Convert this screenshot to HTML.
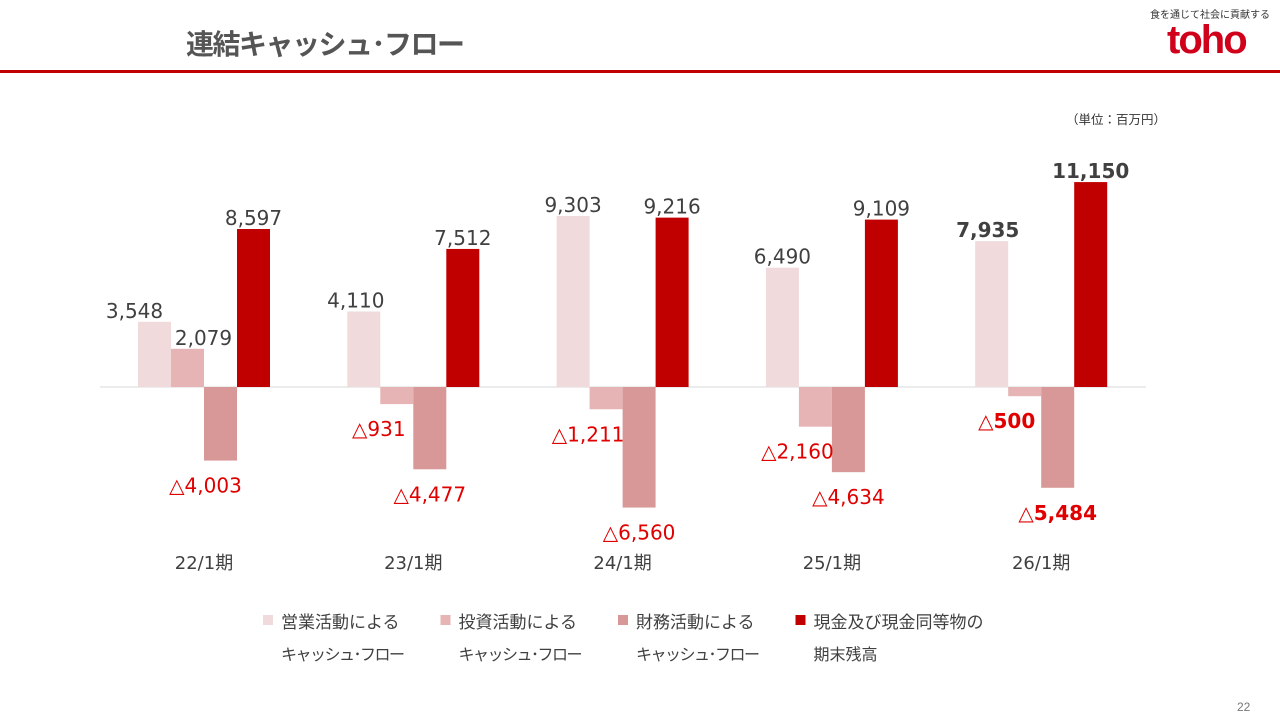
<!DOCTYPE html>
<html><head><meta charset="utf-8"><style>
body{margin:0;width:1280px;height:720px;background:#fff;overflow:hidden;font-family:"Liberation Sans","Noto Sans CJK JP",sans-serif;position:relative}
.t{position:absolute;white-space:nowrap}
</style></head><body>
<div class="t" style="left:186px;top:23px;font-size:28px;font-weight:bold;color:#555;letter-spacing:-1.5px">連結キャッシュ･フロー</div>
<div class="t" style="left:1150px;top:6px;font-size:10px;color:#333">食を通じて社会に貢献する</div>
<div class="t" style="left:1167px;top:18px;font-size:40px;font-weight:bold;color:#d0021b;letter-spacing:-2px">toho</div>
<div style="position:absolute;left:0;top:70px;width:1280px;height:3px;background:#c00000"></div>
<div class="t" style="left:1066px;top:109px;font-size:12.5px;color:#333">（単位：百万円）</div>
<div class="t" style="left:1237px;top:700px;font-size:12px;color:#777">22</div>
<svg id="c" width="1280" height="720" style="position:absolute;left:0;top:0"></svg>
<script>
const categories=["22/1期","23/1期","24/1期","25/1期","26/1期"];
const operating=[3548,4110,9303,6490,7935];
const investing=[2079,-931,-1211,-2160,-500];
const financing=[-4003,-4477,-6560,-4634,-5484];
const cashEnd=[8597,7512,9216,9109,11150];
const seriesNames=["営業活動による|キャッシュ･フロー","投資活動による|キャッシュ･フロー","財務活動による|キャッシュ･フロー","現金及び現金同等物の|期末残高"];
const colors=["#f0dadb","#e6b4b5","#d99898","#c00000"];
const ns="http://www.w3.org/2000/svg";
const svg=document.getElementById('c');
const zeroY=387,scale=158/8597;
const y=v=>zeroY-v*scale;
const gx=i=>204+i*209.3;
const bw=33;
function el(t,a){const e=document.createElementNS(ns,t);for(const k in a)e.setAttribute(k,a[k]);svg.appendChild(e);return e;}
const axis=el('line',{x1:100,x2:1146,y1:zeroY,y2:zeroY,stroke:'#d9d9d9','stroke-width':1});


const fmt=v=>(v<0?'△':'')+Math.abs(v).toLocaleString('en-US');
const series=[operating,investing,financing,cashEnd];
const labels=[];
categories.forEach((c,i)=>{
  series.forEach((s,j)=>{
    const v=s[i];const x=gx(i)-2*bw+j*bw;
    const r=el('rect',{x:x,y:Math.min(y(v),zeroY),width:bw,height:Math.abs(y(v)-zeroY),fill:colors[j]});
    
    
    labels.push([i,j,v,x]);
  });
  const ct=el('text',{x:gx(i),y:569,'text-anchor':'middle','font-size':18,fill:'#404040','font-family':'DejaVu Sans, Noto Sans CJK JP, sans-serif'});
  ct.textContent=c;
  
  
});
labels.forEach(([i,j,v,x])=>{
  const last=i===categories.length-1;
  let off=0;
  if(v<0&&j===1)off=-18;
  if(v<0&&j===2&&i===0)off=-15;
  if(v>=0&&j===0&&i===0)off=-20;
  if(v>=0&&j===1)off=16;
  if(v>=0&&j===0&&i===1)off=-8;
  if(v>=0&&j===0&&i===4)off=-4;
  const ty=v>=0?y(v)-4:y(v)+32;
  const t=el('text',{x:x+bw/2+off,y:ty,'text-anchor':'middle','font-size':20,fill:v<0?'#e00000':'#404040','font-weight':last?'bold':'normal','font-family':'DejaVu Sans, Noto Sans CJK JP, sans-serif'});
  t.textContent=fmt(v);
  
  
});
seriesNames.forEach((n,j)=>{
  const lx=263+j*177.5;
  const sq=el('rect',{x:lx,y:615,width:10,height:10,fill:colors[j]});
  
  
  n.split('|').forEach((p,k)=>{
    const t=el('text',{x:lx+18,y:628+k*32,'font-size':k===0?17:16,fill:'#404040','letter-spacing':(k===1&&j<3)?-1.5:0});
    t.textContent=p;
    
    
  });
});
</script>
</body></html>
